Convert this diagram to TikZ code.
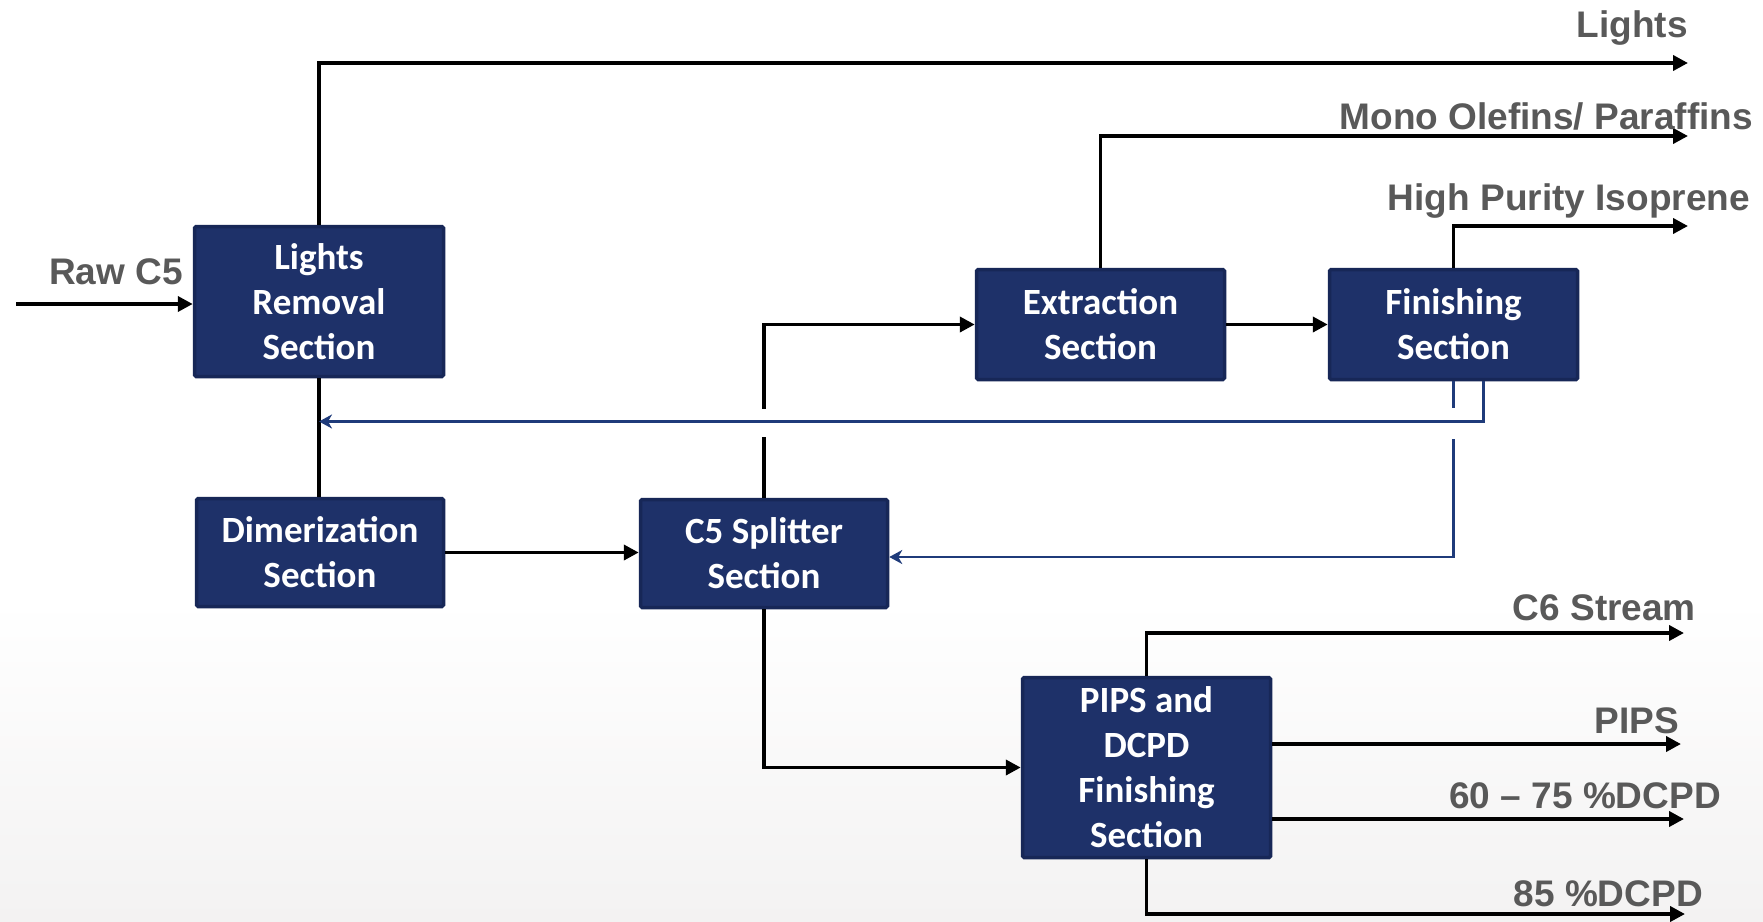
\documentclass[tikz,border=0pt]{standalone}
\usepackage{fontspec}
\newfontfamily\lblfont{Liberation Sans}
\newfontfamily\boxfont{Carlito}
\usetikzlibrary{arrows.meta,calc}
\definecolor{boxfill}{HTML}{1E3169}
\definecolor{boxline}{HTML}{172757}
\definecolor{lblgray}{HTML}{595959}
\definecolor{recyc}{HTML}{1F3B7A}
\definecolor{bggray}{HTML}{F3F2F2}
\begin{document}
\begin{tikzpicture}[x=1pt,y=-1pt,
 box/.style={draw=boxline, line width=3.5pt, fill=boxfill, text=white,
   font=\boxfont\bfseries\fontsize{37}{45}\selectfont, align=center,
   inner sep=0pt, rounded corners=1.5pt},
 lbl/.style={anchor=base east, inner sep=0pt, text=lblgray,
   font=\lblfont\bfseries\fontsize{37}{44}\selectfont},
 flow/.style={line width=3.8pt, -{Triangle[length=15pt,width=15pt]}},
 pipe/.style={line width=3.8pt},
 rec/.style={draw=recyc, line width=2.3pt},
 recarrow/.style={rec, -{Stealth[length=13pt,width=14pt,inset=4pt]}}]
\fill[white] (0,0) rectangle (1763,921);
\shade[top color=white, bottom color=bggray] (0,600) rectangle (1763,921);
\useasboundingbox (0,0) rectangle (1763,921);

% boxes
\node[box, minimum width=249pt, minimum height=150pt] (lr) at (319,301.5) {Lights\\Removal\\Section};
\node[box, minimum width=247pt, minimum height=108pt] (dim) at (320,552.5) {Dimerization\\Section};
\node[box, minimum width=247pt, minimum height=108pt] (c5) at (764,553.5) {C5 Splitter\\Section};
\node[box, minimum width=248pt, minimum height=110pt] (ext) at (1100.5,324.5) {Extraction\\Section};
\node[box, minimum width=248pt, minimum height=110pt] (fin) at (1453.5,324.5) {Finishing\\Section};
\node[box, minimum width=248pt, minimum height=180pt] (pips) at (1146.5,767.5) {PIPS and\\DCPD\\Finishing\\Section};

% free ends
\coordinate (rawin) at (16,304);
\coordinate (lightsEnd) at (1688,63);
\coordinate (monoEnd) at (1688,136);
\coordinate (hpiEnd) at (1688,226);
\coordinate (c6End) at (1684,633);
\coordinate (pipsEnd) at (1681,744);
\coordinate (d60End) at (1684,819);
\coordinate (d85End) at (1685,914);

% black connectors
\draw[flow] (rawin) -- (rawin -| lr.west);
\draw[flow] (lr.north) |- (lightsEnd);
\draw[pipe] (lr.south) -- (lr.south |- dim.north);
\draw[flow] (dim.east) -- (dim.east -| c5.west);
\draw[pipe] (c5.north) -- ++(0,-61);
\draw[flow] ($(c5.north)+(0,-89)$) |- (ext.west);
\draw[flow] (ext.east) -- (fin.west);
\draw[flow] (ext.north) |- (monoEnd);
\draw[flow] (fin.north) |- (hpiEnd);
\draw[flow] (c5.south) |- (pips.west);
\draw[flow] (pips.north) |- (c6End);
\draw[flow] (pips.east |- pipsEnd) -- (pipsEnd);
\draw[flow] (pips.east |- d60End) -- (d60End);
\draw[flow] (pips.south) |- (d85End);

% recycle connectors
\draw[recarrow] ($(fin.south)+(30,0)$) |- (lr.south |- 0,421.5);
\draw[rec] (fin.south) -- ++(0,27);
\draw[recarrow] ($(fin.south)+(0,58)$) |- (c5.east |- 0,557);

% labels
\node[lbl] (tRaw) at (183,284) {Raw C5};
\node[lbl] (tLights) at (1688,37) {Lights};
\node[lbl] (tMono) at (1753,129) {Mono Olefins/ Paraffins};
\node[lbl] (tHpi) at (1750,210) {High Purity Isoprene};
\node[lbl] (tC6) at (1696,620) {C6 Stream};
\node[lbl] (tPips) at (1679,733) {PIPS};
\node[lbl] (t60) at (1721,808) {60 – 75 \%DCPD};
\node[lbl] (t85) at (1703,906) {85 \%DCPD};
\end{tikzpicture}
\end{document}
